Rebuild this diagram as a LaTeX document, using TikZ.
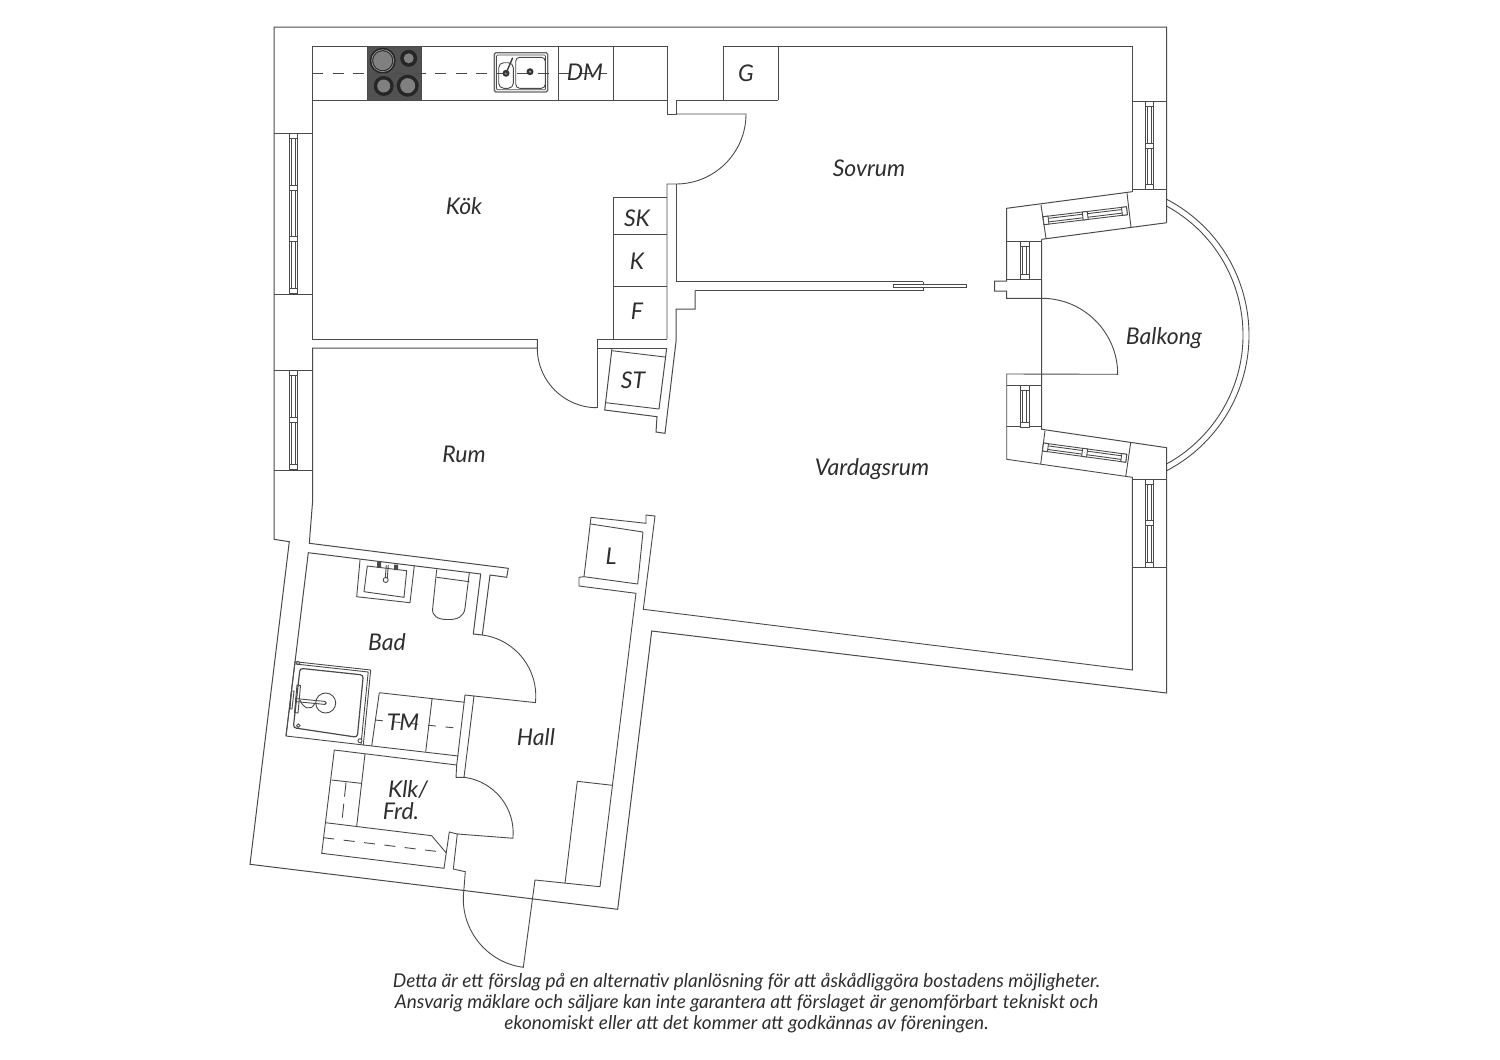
\documentclass[tikz,border=0pt]{standalone}
\usepackage{fontspec}
\setmainfont{Lato}[ItalicFont={Lato Italic}]
\usetikzlibrary{calc}
\definecolor{ln}{HTML}{4A4A4A}
\definecolor{tx}{HTML}{2E2E2E}
\tikzset{
 wall/.style={draw=ln,line width=1pt,line join=miter},
 fine/.style={draw=ln,line width=0.9pt},
 dashline/.style={draw=ln,line width=0.9pt,dash pattern=on 11pt off 9.5pt},
 lab/.style={text=tx,font=\itshape\fontsize{23}{26}\selectfont,inner sep=0pt},
 foot/.style={text=tx,font=\itshape\fontsize{19}{22}\selectfont,inner sep=0pt},
}
% vertical window: x left, x right, y top, y bottom, list of cap centres
\newcommand\vwin[5]{%
 \draw[fine] (#1,#3) rectangle (#2,#4);
 \draw[fine] ({#1+2.3},#3) -- ({#1+2.3},#4) ({#2-2.3},#3) -- ({#2-2.3},#4);
 \foreach \c in {#5}{\filldraw[fine,fill=white] (#1,{\c-2.5}) rectangle (#2,{\c+2.5});}
}
% window along the x axis of a rotated scope
\newcommand\hwin[1]{%
 \draw[fine] (0,-4) rectangle (#1,4);
 \draw[fine] (0,-1.8) -- (#1,-1.8) (0,1.8) -- (#1,1.8);
 \foreach \c in {2.5,{#1/2},{#1-2.5}}{\filldraw[fine,fill=white] ({\c-2.5},-4) rectangle ({\c+2.5},4);}
}
\begin{document}
\begin{tikzpicture}[x=1pt,y=1pt,yscale=-1]
\useasboundingbox (0,0) rectangle (1500,1060);
\fill[white] (0,0) rectangle (1500,1060);
%--- outer shell
\draw[wall] (1166.7,447.7) -- (1166.7,693) -- (651.7,631) -- (617.7,909.3) -- (250,864.3) -- (289.3,541.7) -- (274,539.3) -- (274,27) -- (1166.7,27) -- (1166.7,222.7);
%--- kitchen
\draw[wall] (537.3,339) -- (312,339) -- (312,46.7) -- (667,46.7) -- (667,114) -- (676,114) -- (676,100) -- (723,100);
\draw[wall] (312,100) -- (667,100);
\draw[wall] (723,100) -- (778,100) (723,46.7) -- (723,100) (778,46.7) -- (778,100) (723,46.7) -- (1132.3,46.7) -- (1132.3,191.7);
\draw[wall] (558,46.7) -- (558,100) (613,46.7) -- (613,100);
\draw[fine] (676,114) -- (746,114) arc[start angle=0,end angle=90,radius=70] -- (667,184) -- (667,339);
\draw[wall] (676,184) -- (676,281.7) -- (923,281.7) (695,290.7) -- (923,290.7);
\draw[wall] (695,290.7) -- (695,309) -- (676,309) -- (676,341.7) -- (665,433.3) -- (656,432) -- (657,416.7) -- (604.7,410) -- (612,348.3);
\draw[wall] (923,281.7) -- (923,290.7);
\filldraw[fine,fill=white] (893,284.7) rectangle (966.7,287.7);
%--- appliances column
\draw[fine] (613.3,339) -- (613.3,197.7) -- (667,197.7) (613.3,234) -- (667,234) (613.3,286.7) -- (667,286.7);
\draw[wall] (537.3,339) -- (537.3,348) -- (312.7,348) -- (312.7,500) -- (309.3,543.3) -- (508.3,568.3) -- (506.7,577.3) -- (490,575) -- (482.3,635);
\draw[wall] (597,339) -- (667,339) (597,348.3) -- (666.7,348.3) (597,339) -- (597,408);
\draw[fine] (537.3,348) arc[start angle=180,end angle=90,radius=59.7];
\draw[wall] (666.7,348.3) -- (659,409);
\draw[fine] (612,350.7) -- (665,357) (606,402.7) -- (659,409);
%--- east front
\draw[wall] (1132.3,191.7) -- (1006.7,208.3) -- (1006.7,281) -- (994.7,281) -- (994.7,291) -- (1006.7,291) -- (1006.7,298.3) -- (1041.7,298.3);
\draw[wall] (1041.7,239.3) -- (1041.7,429.3) -- (1166.7,447.7);
\draw[wall] (1041.7,239.3) -- (1166.7,222.7);
\draw[fine] (1006.7,241.7) -- (1041.7,241.7) (1006.7,279.3) -- (1041.7,279.3);
\draw[fine] (1041,205) -- (1046,238.3) (1127,193.3) -- (1131,227.3);
\draw[fine] (1132.3,101) -- (1166.7,101) (1132.3,189.3) -- (1166.7,189.3);
\draw[fine] (1041.7,298.3) arc[start angle=-90,end angle=0,radius=76] -- (1006.7,374) -- (1006.7,459.3) -- (1132.3,477.3) -- (1132.3,670) -- (643.3,609.3) -- (655,516) -- (646,515) -- (646,523.3) -- (591,517.3) -- (584,576.7) -- (579,577.3) -- (579,586) -- (636,593.3) -- (600,886.7) -- (535,880) -- (523.3,967.3) arc[start angle=97.5,end angle=187.4,radius=69] -- (465.3,871.7) -- (453.3,869) -- (457.3,834) -- (449.3,832) -- (444,868.3) -- (321.7,853.3) -- (334.3,750) -- (456.7,765) -- (456,777.3) -- (464,777.3) -- (474,696) -- (465,695) -- (456.7,765);
\draw[fine] (1006.7,385) -- (1041.7,385) (1006.7,426.7) -- (1041.7,426.7);
\draw[fine] (1045,430.7) -- (1040.7,464) (1130.7,442.7) -- (1125.7,476.7);
\draw[fine] (1132.3,479.3) -- (1166.7,479.3) (1132.3,567.3) -- (1166.7,567.3);
\draw[fine] (274,133.3) -- (312,133.3) (274,294) -- (312,294) (274,370) -- (312,370) (274,470) -- (312,470);
\draw[fine] (1096,335) ++(-62.5:153) arc[start angle=-62.5,end angle=62.5,radius=153];
\draw[fine] (1096,335) ++(-61.1:147) arc[start angle=-61.1,end angle=61.1,radius=147];
%--- windows
\vwin{289}{297.3}{133.3}{294}{136,188,239,291}
\vwin{289}{297.3}{370}{470}{373,420,467}
\vwin{1145}{1153.7}{101}{189.3}{104,145.5,186.5}
\vwin{1145}{1153.7}{479.3}{567.3}{482,523,564.5}
\vwin{1020}{1029}{241.7}{279.3}{244,277}
\vwin{1020}{1029}{385}{426.7}{387.5,424.5}
\begin{scope}[shift={(1043.5,220.7)},rotate=-6.8]\hwin{84}\end{scope}
\begin{scope}[shift={(1043,447)},rotate=7.7]\hwin{84}\end{scope}
%--- L cupboard
\draw[fine] (590.7,524) -- (643,532) (584,576.7) -- (637.7,584) (643,532) -- (637.7,584);
%--- bathroom
\draw[wall] (286,736) -- (308.3,552.7) -- (480.7,574) -- (473.3,634) -- (482.3,635);
\draw[fine] (482.3,635) arc[start angle=-82.5,end angle=6.2,radius=61.5] -- (474,696);
\draw[fine] (286,736) -- (458.3,756);
\draw[fine] (379.3,692.7) -- (465,702.3) (379.3,692.7) -- (371.7,746) (432,699.3) -- (425.7,751.7);
\draw[fine] (464,777.3) arc[start angle=-83,end angle=5.5,radius=56] -- (457.3,834);
%--- shower
\draw[fine] (286,736) -- (295,661.7) -- (370.7,670) -- (363.3,745);
\draw[fine] (295.5,664) -- (368.2,672) -- (361,744.5);
\draw[line width=1.2pt,draw=ln,rounded corners=3pt] (300,668.3) -- (363.3,675) -- (357.3,737.3) -- (293.3,727.7) -- cycle;
\draw[fine] (325.7,703) circle[radius=10];
\draw[fine] (295,698.5) -- (325.7,701.5) (295,701.5) -- (325.7,704.5);
\fill[ln] (325.7,703) circle[radius=1.2];
\draw[fine] (300,700) .. controls (303,708) and (311,712) .. (315,703);
\draw[fine] (297,685) -- (300.5,685.5) -- (298,713) -- (294.5,712.5) -- cycle;
\draw[fine] (291.5,691) -- (294,691) -- (292,709) -- (290,709) -- cycle;
\filldraw[fine,fill=white] (298,663) circle[radius=1.8] (298.3,725.7) circle[radius=1.8] (360,740.7) circle[radius=2];
%--- washstand
\draw[fine] (360,560) -- (356.7,596.7) -- (410,602.7) -- (414.3,565.7);
\draw[fine] (367.3,566) -- (406.7,570.7) -- (404,597.3) -- (364,591.7) -- cycle;
\fill[ln] (377,562) rectangle (381,567.5) (394,564.5) rectangle (398,570);
\draw[fine] (386.3,565) -- (385.3,578) (388.3,565) -- (387.3,578);
\filldraw[fine,fill=white] (385.7,580) circle[radius=2.5];
%--- toilet
\draw[fine] (436.7,569.5) -- (432.7,608) .. controls (431.5,616) and (438,619.5) .. (446.7,619.5) .. controls (457,620) and (464,617) .. (465,608) -- (469.3,573);
\draw[fine] (436.7,577.3) -- (469.3,581.7);
%--- TM dashed line
\draw[fine,dash pattern=on 8pt off 9.7pt] (375,720) -- (456,728);
%--- Klk
\draw[fine] (365,754) -- (356.7,826) (331.7,780) -- (361,783.3);
\draw[fine] (325.7,822.7) -- (431.7,835.7) -- (446,852.7);
\draw[dashline] (323.3,837.7) -- (444,852.3);
\draw[fine,dash pattern=on 14pt off 7pt] (346,782.7) -- (341.7,823.3);
%--- hall wardrobe
\draw[fine] (565,883.3) -- (577.3,781.3) -- (612.3,785.3);
%--- kitchen fittings
\filldraw[draw=ln,fill=black!68,line width=0.9pt] (367.7,46.7) rectangle (421,100);
\foreach \x/\y/\r in {382.7/60.7/13,408.7/58.3/8.5,383.7/86/10,407.7/85.7/11}{
 \fill[black!85] (\x,\y) circle[radius=\r];
 \fill[black!50] (\x,\y) circle[radius=\r-3.5];
}
\draw[black!35,line width=0.6pt] (382.7,60.7) circle[radius=11];
\filldraw[draw=black!60,fill=white,line width=1.4pt,rounded corners=1.5pt] (494.3,52.7) rectangle (547.7,92);
\draw[fine,line width=0.7pt,rounded corners=1pt] (496.5,55) rectangle (545.5,89.8);
\draw[fine,rounded corners=5pt] (498.7,62.7) rectangle (513.3,88.3);
\draw[fine,rounded corners=4pt] (515.7,57.3) rectangle (545.3,88.3);
\draw[dashline] (312,73.3) -- (606.7,73.3);
\fill[black!80] (506,73.3) circle[radius=3.5] (530,71.7) circle[radius=3.5];
\fill[black!40] (506,73.3) circle[radius=1.5] (530,71.7) circle[radius=1.3];
\draw[black!75,line width=1.4pt] (506,73.3) -- (512.7,57.7);
%--- labels
\node[lab] (kok) at (464,206) {Kök};
\node[lab] (sov) at (869,168) {Sovrum};
\node[lab] (sk) at (637,218) {SK};
\node[lab] (k) at (637,261) {K};
\node[lab] (f) at (637,311) {F};
\node[lab] (st) at (633,380) {ST};
\node[lab] (rum) at (464,454) {Rum};
\node[lab] (var) at (872,469.5) {Vardagsrum};
\node[lab] (bal) at (1164,338.5) {Balkong};
\node[lab] (g) at (746,73) {G};
\node[lab] (dm) at (585,72) {DM};
\node[lab] (l) at (611,556) {L};
\node[lab] (bad) at (387,642) {Bad};
\node[lab] (hall) at (536,737) {Hall};
\node[lab] (tm) at (403,722) {TM};
\node[lab] (klk) at (408,790) {Klk/};
\node[lab] (frd) at (401,811) {Frd.};
\node[foot] (f1) at (746.5,982) {Detta är ett förslag på en alternativ planlösning för att åskådliggöra bostadens möjligheter.};
\node[foot] (f2) at (746.5,1003) {Ansvarig mäklare och säljare kan inte garantera att förslaget är genomförbart tekniskt och};
\node[foot] (f3) at (746.5,1024) {ekonomiskt eller att det kommer att godkännas av föreningen.};
\end{tikzpicture}
\end{document}
